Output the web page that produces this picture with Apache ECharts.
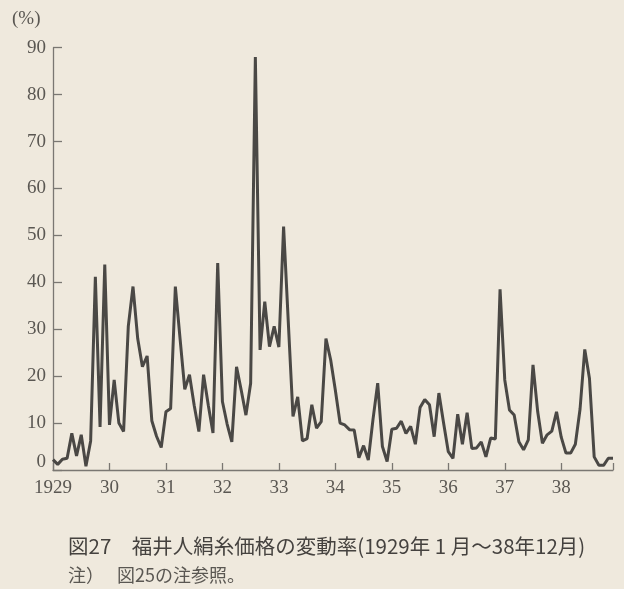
<!DOCTYPE html>
<html><head><meta charset="utf-8">
<style>html,body{margin:0;padding:0;background:#efe9dd;}#c{width:624px;height:589px;}</style>
<script src="https://cdn.jsdelivr.net/npm/echarts@6/dist/echarts.min.js"></script>
</head><body><div id="c"></div>
<script>
const yearLabels = ['1929','30','31','32','33','34','35','36','37','38'];
const months = ['1','2','3','4','5','6','7','8','9','10','11','12'];
const v1929 = [2.2, 1.2, 2.3, 2.5, 7.8, 3.0, 7.5, 0.8, 6.2, 41.2, 9.2, 43.8];
const v1930 = [9.6, 19.2, 10.0, 8.2, 30.6, 39.1, 28.0, 22.0, 24.3, 10.5, 7.2, 4.8];
const v1931 = [12.4, 13.1, 39.1, 28.0, 17.2, 20.3, 13.8, 8.2, 20.3, 13.8, 7.9, 44.1];
const v1932 = [14.6, 9.8, 6.0, 22.0, 17.0, 11.7, 18.5, 88.0, 25.6, 35.9, 26.3, 30.6];
const v1933 = [26.2, 51.9, 31.5, 11.4, 15.6, 6.2, 6.7, 13.9, 8.9, 10.3, 28.0, 23.5];
const v1934 = [17.0, 10.0, 9.6, 8.6, 8.5, 2.6, 5.2, 2.1, 10.8, 18.5, 5.0, 1.8];
const v1935 = [8.7, 8.9, 10.4, 7.8, 9.3, 5.5, 13.3, 15.0, 13.9, 7.1, 16.4, 10.0];
const v1936 = [3.9, 2.5, 11.9, 5.5, 12.2, 4.6, 4.7, 6.0, 2.8, 6.8, 6.6, 38.5];
const v1937 = [19.2, 12.8, 11.7, 6.0, 4.3, 6.4, 22.4, 12.4, 5.7, 7.5, 8.3, 12.4];
const v1938 = [7.0, 3.6, 3.6, 5.5, 13.0, 25.7, 19.5, 2.8, 1.0, 1.0, 2.5, 2.5];

const values = [].concat(v1929, v1930, v1931, v1932, v1933, v1934, v1935, v1936, v1937, v1938);
const categories = [];
yearLabels.forEach((y, yi) => months.forEach(m => categories.push((1929 + yi) + '-' + m)));
const last = categories.length - 1;

const axisColor = '#7a7772';
const labelColor = '#5a5752';
const chart = echarts.init(document.getElementById('c'), null, {renderer: 'canvas'});
chart.setOption({
  backgroundColor: '#efe9dd',
  animation: false,
  grid: {left: 53, right: 11, top: 47.7, bottom: 119, containLabel: false},
  xAxis: {
    type: 'category',
    data: categories,
    boundaryGap: false,
    axisLine: {show: true, lineStyle: {color: axisColor, width: 1.3}},
    axisTick: {show: true, inside: true, length: 7, lineStyle: {color: axisColor, width: 1.3},
      interval: (i) => i % 12 === 0 || i === last},
    axisLabel: {show: true, interval: (i) => i % 12 === 0, margin: 9,
      color: labelColor, fontFamily: 'Liberation Serif', fontSize: 19,
      formatter: (v, i) => yearLabels[Math.floor(i / 12)]},
    splitLine: {show: false}
  },
  yAxis: {
    type: 'value', min: 0, max: 90, interval: 10,
    axisLine: {show: true, lineStyle: {color: axisColor, width: 1.3}},
    axisTick: {show: true, inside: true, length: 9, lineStyle: {color: axisColor, width: 1.3}},
    axisLabel: {margin: 7, color: labelColor, fontFamily: 'Liberation Serif', fontSize: 19,
      formatter: (v) => v === 0 ? '{z|0}' : String(v),
      rich: {z: {color: labelColor, fontFamily: 'Liberation Serif', fontSize: 19, padding: [0, 0, 16, 0]}}},
    splitLine: {show: false}
  },
  series: [{
    type: 'line', data: values, symbol: 'none', smooth: false,
    lineStyle: {color: '#4a4845', width: 3}
  }],
  graphic: [
    {type: 'text', left: 12, top: 10, style: {text: '(%)', fill: labelColor, font: '19px "Liberation Serif"'}},
    {type: 'text', left: 68, top: 536, style: {text: '図27　福井人絹糸価格の変動率(1929年 1 月～38年12月)', fill: '#45423f', font: '20.5px "Noto Sans CJK JP"'}},
    {type: 'text', left: 68, top: 566, style: {text: '注）　 図25の注参照。', fill: '#5a5752', font: '18px "Noto Sans CJK JP"'}}
  ]
});
</script>
</body></html>
